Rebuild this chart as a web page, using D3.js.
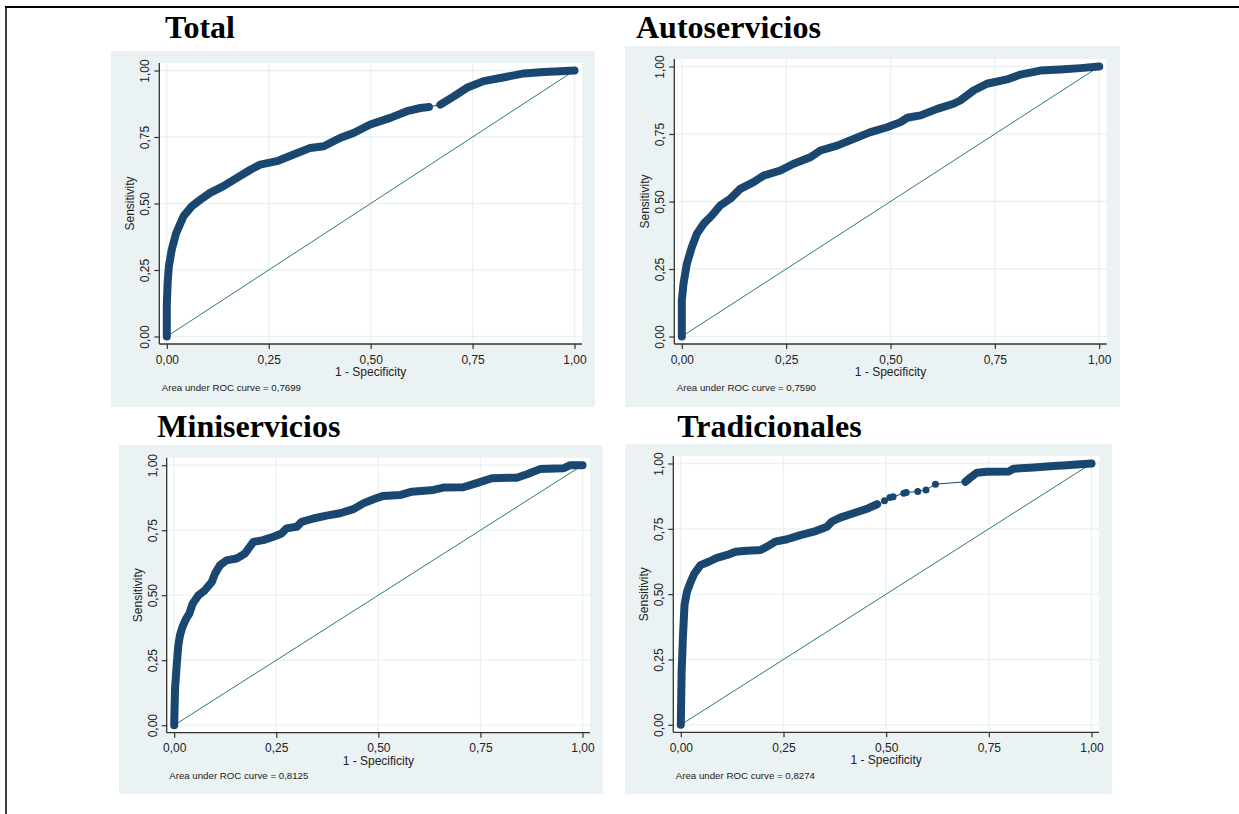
<!DOCTYPE html>
<html>
<head>
<meta charset="utf-8">
<script src="https://cdn.jsdelivr.net/npm/d3@7"></script>
<style>
  body { margin: 0; background: #fff; }
  svg { display: block; }
  .title { font-family: "Liberation Serif", "Times New Roman", serif; font-weight: bold; font-size: 32px; fill: #000; }
  .tick text, .axis-label, .note { font-family: "Liberation Sans", Arial, sans-serif; fill: #222; }
</style>
</head>
<body>
<div id="chart"></div>
<script>
// ROC curves: [1 - specificity, sensitivity]
var titles = ["Total", "Autoservicios", "Miniservicios", "Tradicionales"];
var aucValues = [0.7699, 0.7590, 0.8125, 0.8274];
var tickValues = [0, 0.25, 0.5, 0.75, 1];

var totalRunA = [[0,0],[0,0.12],[0.002,0.2],[0.005,0.263],[0.012,0.326],[0.023,0.389],[0.041,0.452],
    [0.061,0.489],[0.082,0.514],[0.106,0.54],[0.139,0.565],[0.172,0.596],[0.205,0.627],[0.229,0.646],
    [0.27,0.659],[0.311,0.684],[0.352,0.709],[0.385,0.715],[0.426,0.747],[0.458,0.765],[0.499,0.797],
    [0.548,0.822],[0.589,0.847],[0.622,0.859],[0.643,0.863]];
var totalRunB = [[0.671,0.872],[0.704,0.903],[0.736,0.935],[0.777,0.96],[0.818,0.972],[0.876,0.989],
    [0.925,0.994],[0.966,0.997],[1,1]];

var autoRun = [[0,0],[0,0.133],[0.004,0.195],[0.012,0.269],[0.024,0.331],[0.036,0.38],[0.052,0.417],
    [0.072,0.448],[0.092,0.485],[0.116,0.51],[0.14,0.547],[0.172,0.572],[0.196,0.596],[0.236,0.615],
    [0.268,0.64],[0.308,0.664],[0.332,0.689],[0.372,0.707],[0.412,0.732],[0.452,0.757],[0.492,0.775],
    [0.524,0.794],[0.54,0.81],[0.572,0.819],[0.612,0.843],[0.651,0.862],[0.667,0.874],[0.699,0.911],
    [0.731,0.936],[0.779,0.952],[0.811,0.97],[0.859,0.985],[0.907,0.989],[0.955,0.994],[1,1]];

var miniRun = [[0,0],[0.002,0.139],[0.006,0.229],[0.01,0.306],[0.014,0.345],[0.02,0.377],[0.029,0.409],
    [0.037,0.429],[0.045,0.467],[0.059,0.499],[0.075,0.519],[0.092,0.551],[0.1,0.583],[0.112,0.615],
    [0.128,0.634],[0.153,0.641],[0.173,0.66],[0.185,0.686],[0.194,0.705],[0.218,0.712],[0.243,0.725],
    [0.263,0.737],[0.275,0.757],[0.3,0.763],[0.312,0.782],[0.341,0.795],[0.373,0.806],[0.406,0.815],
    [0.439,0.831],[0.463,0.853],[0.488,0.869],[0.512,0.882],[0.553,0.885],[0.582,0.898],[0.635,0.905],
    [0.659,0.914],[0.708,0.915],[0.741,0.931],[0.778,0.95],[0.839,0.952],[0.864,0.965],[0.896,0.985],
    [0.953,0.988],[0.97,1],[1,1]];

var tradRunA = [[0,0],[0.002,0.202],[0.005,0.33],[0.009,0.458],[0.015,0.509],[0.024,0.547],[0.033,0.579],
    [0.048,0.611],[0.068,0.624],[0.088,0.639],[0.113,0.65],[0.133,0.662],[0.161,0.666],[0.194,0.669],
    [0.21,0.682],[0.23,0.701],[0.259,0.71],[0.291,0.726],[0.324,0.739],[0.356,0.758],[0.368,0.778],
    [0.388,0.793],[0.413,0.806],[0.437,0.818],[0.457,0.829],[0.478,0.844]];
var tradDots = [[0.496,0.857],[0.509,0.87],[0.517,0.873],[0.543,0.886],[0.549,0.889],[0.577,0.893],
    [0.597,0.899],[0.62,0.921]];
var tradRunB = [[0.693,0.93],[0.705,0.946],[0.721,0.965],[0.745,0.968],[0.798,0.969],[0.81,0.98],
    [0.859,0.985],[0.908,0.99],[0.94,0.993],[0.964,0.996],[1,1]];

var curves = [
    {runs: [totalRunA, totalRunB], dots: []},
    {runs: [autoRun], dots: []},
    {runs: [miniRun], dots: []},
    {runs: [tradRunA, tradRunB], dots: tradDots}
];

// panel geometry (page pixels)
var panels = [
    {title: [165, 38],    bg: [111, 51, 595, 407],  plot: [159.3, 63, 582, 344]},
    {title: [636, 38],    bg: [625, 46, 1120, 407], plot: [674.3, 59, 1106.7, 344]},
    {title: [157.3, 437], bg: [119, 445, 602.7, 794], plot: [166.7, 457.7, 590, 732.7]},
    {title: [677.3, 437], bg: [625, 444, 1111.7, 794.3], plot: [673.3, 456, 1099, 732.3]}
];

var navy = "#1a476f",
    refColor = "#2e7b6b",
    bgColor = "#eaf2f3",
    pad = 7.5;

var locale = d3.formatLocale({decimal: ",", thousands: ".", grouping: [3], currency: ["", ""]}),
    fmt = locale.format(".2f"),
    fmt4 = locale.format(".4f");

var svg = d3.select("#chart").append("svg")
    .attr("width", 1239)
    .attr("height", 814);

// page frame (top and left rules)
svg.append("line").attr("x1", 5).attr("x2", 1239).attr("y1", 7).attr("y2", 7)
    .attr("stroke", "#000").attr("stroke-width", 2);
svg.append("line").attr("x1", 6).attr("x2", 6).attr("y1", 6).attr("y2", 814)
    .attr("stroke", "#000").attr("stroke-width", 1.5);

panels.forEach(function(p, i) {
    var g = svg.append("g");
    var b = p.bg, r = p.plot;

    g.append("rect")
        .attr("x", b[0]).attr("y", b[1])
        .attr("width", b[2] - b[0]).attr("height", b[3] - b[1])
        .attr("fill", bgColor);

    g.append("text")
        .attr("class", "title")
        .attr("x", p.title[0]).attr("y", p.title[1])
        .text(titles[i]);

    g.append("rect")
        .attr("x", r[0]).attr("y", r[1])
        .attr("width", r[2] - r[0]).attr("height", r[3] - r[1])
        .attr("fill", "#fff");

    var x = d3.scaleLinear().domain([0, 1]).range([r[0] + pad, r[2] - pad]);
    var y = d3.scaleLinear().domain([0, 1]).range([r[3] - pad, r[1] + pad]);

    // grid
    g.selectAll(".hgrid").data(tickValues).enter().append("line")
        .attr("x1", r[0]).attr("x2", r[2])
        .attr("y1", function(d) { return y(d); }).attr("y2", function(d) { return y(d); })
        .attr("stroke", bgColor).attr("stroke-width", 1.3);
    g.selectAll(".vgrid").data(tickValues).enter().append("line")
        .attr("y1", r[1]).attr("y2", r[3])
        .attr("x1", function(d) { return x(d); }).attr("x2", function(d) { return x(d); })
        .attr("stroke", bgColor).attr("stroke-width", 1.3);

    // axes
    var xAxis = d3.axisBottom(x).tickValues(tickValues).tickFormat(fmt).tickSize(5);
    var yAxis = d3.axisLeft(y).tickValues(tickValues).tickFormat(fmt).tickSize(5);

    var gx = g.append("g").attr("transform", "translate(0," + r[3] + ")").call(xAxis);
    gx.select(".domain").remove();
    gx.selectAll(".tick line").attr("stroke", "#333").attr("stroke-width", 1.2);
    gx.selectAll(".tick text").attr("font-size", 12).attr("y", 19.5).attr("dy", 0).attr("fill", "#222");

    var gy = g.append("g").attr("transform", "translate(" + r[0] + ",0)").call(yAxis);
    gy.select(".domain").remove();
    gy.selectAll(".tick line").attr("stroke", "#333").attr("stroke-width", 1.2);
    gy.selectAll(".tick text")
        .attr("font-size", 12).attr("fill", "#222")
        .attr("transform", "rotate(-90)")
        .attr("x", 0).attr("y", -10).attr("dy", 0)
        .attr("text-anchor", "middle");

    g.append("line")
        .attr("x1", r[0]).attr("x2", r[2]).attr("y1", r[3]).attr("y2", r[3])
        .attr("stroke", "#333").attr("stroke-width", 1.3);
    g.append("line")
        .attr("x1", r[0]).attr("x2", r[0]).attr("y1", r[1]).attr("y2", r[3])
        .attr("stroke", "#333").attr("stroke-width", 1.3);

    g.append("text")
        .attr("class", "axis-label")
        .attr("x", (r[0] + r[2]) / 2).attr("y", r[3] + 32)
        .attr("text-anchor", "middle").attr("font-size", 12)
        .text("1 - Specificity");

    g.append("text")
        .attr("class", "axis-label")
        .attr("transform", "translate(" + (r[0] - 25) + "," + ((r[1] + r[3]) / 2) + ") rotate(-90)")
        .attr("text-anchor", "middle").attr("font-size", 12)
        .text("Sensitivity");

    g.append("text")
        .attr("class", "note")
        .attr("x", r[0] + 2.5).attr("y", r[3] + 46.5)
        .attr("font-size", 9.7)
        .text("Area under ROC curve = " + fmt4(aucValues[i]));

    // reference line
    g.append("line")
        .attr("x1", x(0)).attr("y1", y(0)).attr("x2", x(1)).attr("y2", y(1))
        .attr("stroke", refColor).attr("stroke-width", 1);

    // ROC curve: thin connecting line, dense marker runs as a thick band, isolated markers as dots
    var c = curves[i];
    var line = d3.line().x(function(d) { return x(d[0]); }).y(function(d) { return y(d[1]); });
    var all = c.runs.length > 1
        ? c.runs[0].concat(c.dots, c.runs[1])
        : c.runs[0];

    g.append("path")
        .attr("d", line(all))
        .attr("fill", "none").attr("stroke", navy).attr("stroke-width", 1);

    c.runs.forEach(function(run) {
        g.append("path")
            .attr("d", line(run))
            .attr("fill", "none")
            .attr("stroke", navy)
            .attr("stroke-width", 8)
            .attr("stroke-linejoin", "round")
            .attr("stroke-linecap", "round");
    });

    g.selectAll(".dot").data(c.dots).enter().append("circle")
        .attr("cx", function(d) { return x(d[0]); })
        .attr("cy", function(d) { return y(d[1]); })
        .attr("r", 3.5)
        .attr("fill", navy);
});
</script>
</body>
</html>
